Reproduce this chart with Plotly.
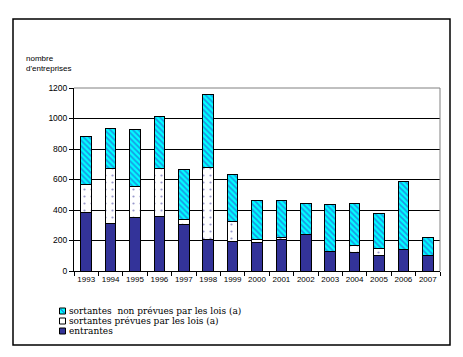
import plotly.graph_objects as go

annees = ["1993", "1994", "1995", "1996", "1997", "1998", "1999", "2000",
          "2001", "2002", "2003", "2004", "2005", "2006", "2007"]
entrantes = [386, 314, 353, 360, 307, 209, 195, 189, 209, 241, 130, 123, 103, 143, 103]
sortantes_prevues = [184, 355, 198, 309, 33, 473, 129, 20, 13, 0, 0, 41, 46, 0, 0]
sortantes_non_prevues = [312, 265, 375, 342, 323, 474, 312, 256, 243, 204, 309, 281, 231, 441, 119]

y_ticks = [0, 200, 400, 600, 800, 1000, 1200]

noms = ["entrantes", "sortantes prévues par les lois (a)",
        "sortantes\u00a0 non prévues par les lois (a)"]

W, H = 463, 357
L, R, T, B = 74, 440, 88, 271
pw, ph = R - L, B - T

def px(x):
    return (x - L) / pw

def py(y):
    return (B - y) / ph

fig = go.Figure()
fig.add_trace(go.Bar(
    x=annees, y=entrantes, name=noms[0],
    marker=dict(color="#333399", line=dict(color="black", width=1)),
))
fig.add_trace(go.Bar(
    x=annees, y=sortantes_prevues, name=noms[1],
    marker=dict(color="white", line=dict(color="black", width=1),
                pattern=dict(shape=".", fgcolor="#333399", bgcolor="white",
                             size=7, solidity=0.08)),
))
fig.add_trace(go.Bar(
    x=annees, y=sortantes_non_prevues, name=noms[2],
    marker=dict(color="#00FFFF", line=dict(color="black", width=1),
                pattern=dict(shape="\\", fgcolor="#3333CC", bgcolor="#00FFFF",
                             size=4, solidity=0.45)),
))

shapes = [
    # outer frame
    dict(type="rect", xref="paper", yref="paper",
         x0=px(13), x1=px(450), y0=py(345), y1=py(19),
         line=dict(color="black", width=1.5), layer="below"),
    # grey plot frame top and right
    dict(type="line", xref="paper", yref="paper", x0=0, x1=1, y0=1, y1=1,
         line=dict(color="#808080", width=1)),
    dict(type="line", xref="paper", yref="paper", x0=1, x1=1, y0=0, y1=1,
         line=dict(color="#808080", width=1)),
]

# manual legend
leg_y = [311, 321, 331]
leg_cols = ["#00FFFF", "white", "#333399"]
leg_txt = [noms[2], noms[1], noms[0]]
annotations = [
    dict(text="nombre<br>d'entreprises", xref="paper", yref="paper",
         x=px(24), y=py(52), xanchor="left", yanchor="top", align="left",
         showarrow=False, font=dict(family="Liberation Sans", size=8, color="black")),
]
for yy, c, t in zip(leg_y, leg_cols, leg_txt):
    shapes.append(dict(type="rect", xref="paper", yref="paper",
                       x0=px(59.5), x1=px(65.5), y0=py(yy + 3), y1=py(yy - 3),
                       fillcolor=c, line=dict(color="black", width=1)))
    annotations.append(dict(text=t, xref="paper", yref="paper",
                            x=px(67), y=py(yy), xanchor="left", yanchor="middle",
                            showarrow=False,
                            font=dict(family="DejaVu Serif", size=9, color="black")))
# hatch hint on cyan legend marker
shapes.append(dict(type="line", xref="paper", yref="paper",
                   x0=px(60.5), x1=px(64.5), y0=py(leg_y[0] - 2), y1=py(leg_y[0] + 2),
                   line=dict(color="#3333CC", width=1)))

fig.update_layout(
    barmode="stack",
    bargap=0.57,
    width=W, height=H,
    margin=dict(l=L, r=W - R, t=T, b=H - B),
    paper_bgcolor="white",
    plot_bgcolor="white",
    showlegend=False,
    font=dict(family="Liberation Sans", size=8.5, color="black"),
    shapes=shapes,
    annotations=annotations,
    xaxis=dict(
        type="category", showline=True, linecolor="black", linewidth=1,
        ticks="outside", tickson="boundaries", ticklen=4, tickcolor="black",
        showgrid=False, tickangle=0, tickfont=dict(size=8, family="Liberation Sans"),
    ),
    yaxis=dict(
        range=[0, 1200], tickvals=y_ticks, showline=True, linecolor="black",
        linewidth=1, ticks="outside", ticklen=4, tickcolor="black",
        showgrid=True, gridcolor="black", gridwidth=1, zeroline=False,
        tickfont=dict(size=8.5, family="Liberation Sans"),
    ),
)

fig.write_html("out.html", config={"displayModeBar": False},
               post_script="document.body.style.margin='0';document.body.style.overflow='hidden';")
